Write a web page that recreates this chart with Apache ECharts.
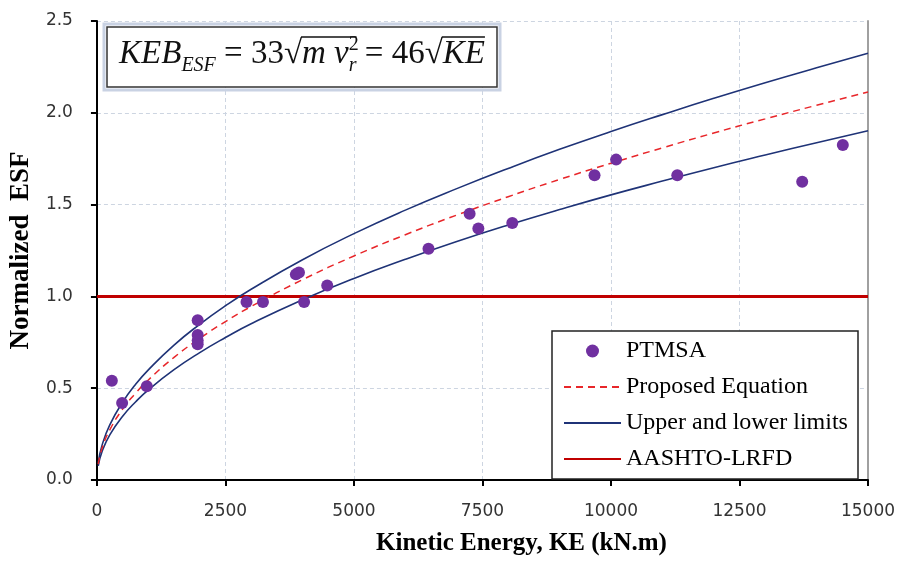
<!DOCTYPE html>
<html>
<head>
<meta charset="utf-8">
<script src="https://cdn.jsdelivr.net/npm/echarts@6/dist/echarts.min.js"></script>
<style>
  html, body { margin: 0; padding: 0; background: #fff; }
  #chart { width: 902px; height: 561px; }
</style>
</head>
<body>
<div id="chart"></div>
<script>
// measured PTMSA points (KE in kN.m, normalized ESF)
var ptmsaKE  = [290, 490, 970, 1960, 1960, 1960, 1960, 2910, 3230, 3870, 3930, 4030, 4480, 6450, 7250, 7420, 8080, 9680, 10100, 11290, 13720, 14510];
var ptmsaESF = [0.54, 0.42, 0.51, 0.87, 0.79, 0.76, 0.74, 0.97, 0.97, 1.12, 1.13, 0.97, 1.06, 1.26, 1.45, 1.37, 1.40, 1.66, 1.745, 1.66, 1.625, 1.825];

// curves
var curveKE   = [25, 100, 250, 500, 750, 1000, 1500, 2000, 2500, 3000, 4000, 5000, 6000, 7000, 8000, 9000, 10000, 11000, 12000, 13000, 14000, 15000];
var proposed  = [0.086, 0.173, 0.273, 0.386, 0.472, 0.545, 0.668, 0.771, 0.863, 0.945, 1.091, 1.220, 1.336, 1.443, 1.543, 1.637, 1.725, 1.809, 1.890, 1.967, 2.041, 2.113];
var upperLim  = [0.095, 0.190, 0.300, 0.424, 0.520, 0.600, 0.735, 0.848, 0.949, 1.039, 1.200, 1.342, 1.470, 1.587, 1.697, 1.801, 1.898, 1.990, 2.079, 2.164, 2.245, 2.324];
var lowerLim  = [0.077, 0.155, 0.246, 0.347, 0.425, 0.491, 0.601, 0.694, 0.776, 0.851, 0.982, 1.098, 1.202, 1.299, 1.389, 1.473, 1.553, 1.628, 1.701, 1.770, 1.837, 1.902];

var aashtoKE  = [0, 15000];
var aashtoESF = [1.0, 1.0];

var xTicks = [0, 2500, 5000, 7500, 10000, 12500, 15000];
var yTicks = ['0.0', '0.5', '1.0', '1.5', '2.0', '2.5'];

function pairs(xs, ys) {
  return xs.map(function (x, i) { return [x, ys[i]]; });
}

// equation box built piece by piece so sub/superscripts sit right
var serif = '"Liberation Serif", "Times New Roman", serif';
var eqPieces = [
  { t: 'KEB', s: 33, it: true },
  { t: 'ESF', s: 20, it: true, dy: 7 },
  { t: ' = 33', s: 33 },
  { t: '\u221A', s: 33, root: true },
  { t: 'm ', s: 33, it: true, ob: true },
  { t: 'v', s: 33, it: true, ob: true },
  { t: '2', s: 20, dy: -14, keep: true, ob: true },
  { t: 'r', s: 20, it: true, dy: 7, ob: true },
  { t: ' = 46', s: 33 },
  { t: '\u221A', s: 33, root: true },
  { t: 'KE', s: 33, it: true, ob: true }
];

function buildEquation() {
  var ctx = document.createElement('canvas').getContext('2d');
  var els = [];
  var widths = eqPieces.map(function (p) {
    ctx.font = (p.it ? 'italic ' : '') + p.s + 'px ' + serif;
    return ctx.measureText(p.t).width;
  });
  var total = 0;
  eqPieces.forEach(function (p, i) { if (!p.keep) total += widths[i]; });
  var boxX = 107, boxY = 27, boxW = 390, boxH = 60;
  var x = boxX + (boxW - total) / 2;
  var base = 66;
  var over = null, overs = [];
  eqPieces.forEach(function (p, i) {
    var dy = p.dy || 0;
    els.push({
      type: 'text', z: 101,
      style: {
        text: p.t, x: x, y: base + dy - 0.36 * p.s,
        fontSize: p.s, fontFamily: serif, fontStyle: p.it ? 'italic' : 'normal',
        fill: '#111', verticalAlign: 'middle', align: 'left'
      }
    });
    if (p.root) { over = { x1: x + widths[i] - 1 }; }
    if (p.ob && over) { over.x2 = x + widths[i]; }
    if (!p.ob && !p.root && over && over.x2) { overs.push(over); over = null; }
    if (!p.keep) x += widths[i];
  });
  if (over && over.x2) overs.push(over);
  overs.forEach(function (o) {
    els.push({
      type: 'line', z: 101,
      shape: { x1: o.x1, y1: base - 29, x2: o.x2, y2: base - 29 },
      style: { stroke: '#111', lineWidth: 1.3 }
    });
  });
  els.unshift({
    type: 'rect', z: 100,
    shape: { x: boxX, y: boxY, width: boxW, height: boxH },
    style: { fill: '#fff', stroke: '#333', lineWidth: 1.5 }
  });
  els.unshift({
    type: 'rect', z: 99,
    shape: { x: boxX - 3, y: boxY - 3, width: boxW + 6, height: boxH + 6 },
    style: { fill: 'none', stroke: '#c9d2e3', lineWidth: 3 }
  });
  return els;
}

var myChart = echarts.init(document.getElementById('chart'));

var tickFont = { color: '#333', fontSize: 17, fontFamily: '"DejaVu Sans", sans-serif' };
var noSymbol = { opacity: 0 };

var option = {
  animation: false,
  backgroundColor: '#fff',
  grid: { left: 96, right: 34, top: 21, bottom: 77 },
  xAxis: {
    type: 'value',
    min: 0, max: 15000, interval: 2500,
    name: 'Kinetic Energy, KE (kN.m)',
    nameLocation: 'middle',
    nameGap: 51,
    nameTextStyle: { fontFamily: serif, fontWeight: 'bold', fontSize: 25, color: '#000', padding: [0, 0, 0, 78] },
    axisLine: { lineStyle: { color: '#000', width: 2 } },
    axisTick: { inside: false, length: 6, lineStyle: { color: '#000', width: 2 } },
    axisLabel: Object.assign({ margin: 23, formatter: function (v) { return xTicks.indexOf(v) >= 0 ? String(v) : ''; } }, tickFont),
    splitLine: { show: true, lineStyle: { color: '#cdd5e1', type: [4, 3], width: 1 } }
  },
  yAxis: [{
    type: 'value',
    min: 0, max: 2.5, interval: 0.5,
    name: 'Normalized  ESF',
    nameLocation: 'middle',
    nameGap: 59,
    nameTextStyle: { fontFamily: serif, fontWeight: 'bold', fontSize: 27, color: '#000' },
    axisLine: { show: true, lineStyle: { color: '#000', width: 2 } },
    axisTick: { show: true, length: 6, lineStyle: { color: '#000', width: 2 } },
    axisLabel: Object.assign({ margin: 24, formatter: function (v) { return yTicks[Math.round(v / 0.5)]; } }, tickFont),
    splitLine: { show: true, lineStyle: { color: '#cdd5e1', type: [4, 3], width: 1 } }
  }, {
    type: 'value',
    position: 'right',
    min: 0, max: 2.5, interval: 0.5,
    axisLine: { show: true, lineStyle: { color: '#a0a0a0', width: 2 } },
    axisTick: { show: false },
    axisLabel: { show: false },
    splitLine: { show: false }
  }],
  legend: {
    orient: 'vertical',
    left: 552, top: 331,
    padding: [8, 6, 8, 11],
    itemGap: 12,
    itemWidth: 57,
    itemHeight: 13,
    itemTextGap: 8,
    backgroundColor: '#fff',
    borderColor: '#222',
    borderWidth: 1.5,
    borderRadius: 0,
    selectedMode: false,
    textStyle: { fontFamily: serif, fontSize: 24, lineHeight: 24, color: '#000', width: 226 },
    data: [
      'PTMSA',
      { name: 'Proposed Equation', itemStyle: noSymbol },
      { name: 'Upper and lower limits', itemStyle: noSymbol },
      { name: 'AASHTO-LRFD', itemStyle: noSymbol }
    ]
  },
  graphic: buildEquation(),
  series: [
    {
      name: 'AASHTO-LRFD', type: 'line', symbol: 'none',
      data: pairs(aashtoKE, aashtoESF),
      lineStyle: { color: '#c00000', width: 3 },
      itemStyle: { color: '#c00000' },
      z: 3
    },
    {
      name: 'Upper and lower limits', type: 'line', symbol: 'none', smooth: true,
      data: pairs(curveKE, upperLim),
      lineStyle: { color: '#1f3377', width: 1.6 },
      itemStyle: { color: '#1f3377' },
      z: 4
    },
    {
      name: 'Upper and lower limits', type: 'line', symbol: 'none', smooth: true,
      data: pairs(curveKE, lowerLim),
      lineStyle: { color: '#1f3377', width: 1.6 },
      itemStyle: { color: '#1f3377' },
      z: 4
    },
    {
      name: 'Proposed Equation', type: 'line', symbol: 'none', smooth: true,
      data: pairs(curveKE, proposed),
      lineStyle: { color: '#e8262a', width: 1.5, type: [7, 5] },
      itemStyle: { color: '#e8262a' },
      z: 4
    },
    {
      name: 'PTMSA', type: 'scatter',
      data: pairs(ptmsaKE, ptmsaESF),
      symbolSize: 12,
      itemStyle: { color: '#7030a0', opacity: 1 },
      z: 5
    }
  ]
};

myChart.setOption(option);
window.addEventListener('resize', function () { myChart.resize(); });
</script>
</body>
</html>
